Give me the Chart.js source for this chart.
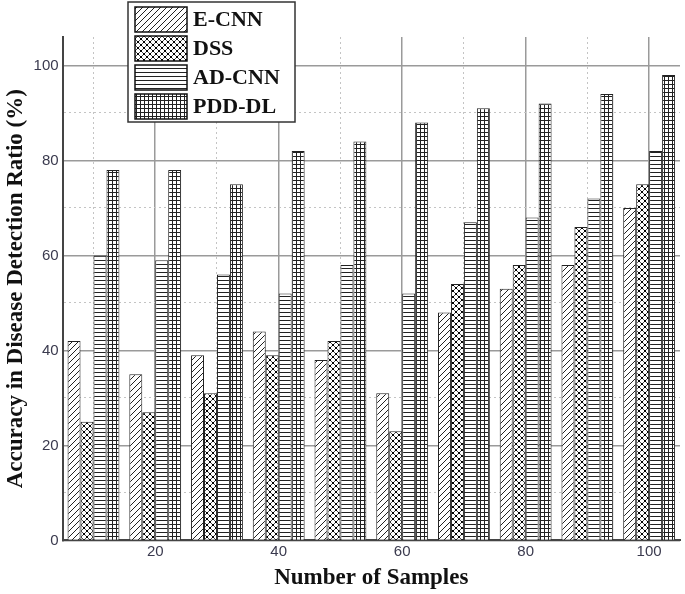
<!DOCTYPE html>
<html lang="en">
<head>
  <meta charset="UTF-8">
  <title>Accuracy in Disease Detection Ratio</title>
  <script src="https://cdn.jsdelivr.net/npm/chart.js@4"></script>
  <style>
    html, body { margin: 0; padding: 0; background: #fff; }
    #wrap { width: 685px; height: 594px; }
  </style>
</head>
<body>
  <div id="wrap"><canvas id="accChart"></canvas></div>

  <script>
    const samples = ['10', '20', '30', '40', '50', '60', '70', '80', '90', '100'];
    const eCnn  = [42, 35, 39, 44, 38, 31, 48, 53, 58, 70];
    const dss   = [25, 27, 31, 39, 42, 23, 54, 58, 66, 75];
    const adCnn = [60, 59, 56, 52, 58, 52, 67, 68, 72, 82];
    const pddDl = [78, 78, 75, 82, 84, 88, 91, 92, 94, 98];
    const seriesNames = ['E-CNN', 'DSS', 'AD-CNN', 'PDD-DL'];

    // black & white hatch fills like the printed figure
    function makePattern(kind) {
      const s = kind === 'diag' || kind === 'dots' ? 6 : 4;
      const c = document.createElement('canvas');
      c.width = s; c.height = s;
      const g = c.getContext('2d');
      g.fillStyle = '#fff';
      g.fillRect(0, 0, s, s);
      g.strokeStyle = '#222';
      g.lineWidth = 1;
      g.beginPath();
      if (kind === 'diag') {
        g.moveTo(0, s); g.lineTo(s, 0);
        g.moveTo(-1, 1); g.lineTo(1, -1);
        g.moveTo(s - 1, s + 1); g.lineTo(s + 1, s - 1);
      } else if (kind === 'dots') {
        g.strokeStyle = '#555';
        g.moveTo(0, 0); g.lineTo(s, s);
        g.moveTo(0, s); g.lineTo(s, 0);
      } else if (kind === 'hlines') {
        g.moveTo(0, 0.5); g.lineTo(s, 0.5);
      } else {
        g.moveTo(0, 0.5); g.lineTo(s, 0.5);
        g.moveTo(0.5, 0); g.lineTo(0.5, s);
      }
      g.stroke();
      if (kind === 'dots') {
        g.fillStyle = '#000';
        g.fillRect(2, 2, 2, 2);
        g.fillRect(0, 0, 1, 1); g.fillRect(s - 1, 0, 1, 1);
        g.fillRect(0, s - 1, 1, 1); g.fillRect(s - 1, s - 1, 1, 1);
      }
      return g.createPattern(c, 'repeat');
    }

    const fills = [makePattern('diag'), makePattern('dots'), makePattern('hlines'), makePattern('grid')];
    const values = [eCnn, dss, adCnn, pddDl];

    // boxed legend drawn on top of the plot, like the original
    const boxLegend = {
      id: 'boxLegend',
      afterDraw(chart) {
        const ctx = chart.ctx;
        const x0 = 128, y0 = 2, w = 167, h = 120;
        ctx.save();
        ctx.fillStyle = '#fff';
        ctx.fillRect(x0, y0, w, h);
        ctx.strokeStyle = '#333';
        ctx.lineWidth = 1.5;
        ctx.strokeRect(x0, y0, w, h);
        chart.data.datasets.forEach((ds, i) => {
          const sy = y0 + 5 + i * 29;
          ctx.fillStyle = ds.backgroundColor;
          ctx.fillRect(x0 + 7, sy, 52, 25);
          ctx.strokeStyle = '#111';
          ctx.lineWidth = 1.5;
          ctx.strokeRect(x0 + 7, sy, 52, 25);
          ctx.fillStyle = '#111';
          ctx.font = 'bold 22px "Liberation Serif"';
          ctx.textBaseline = 'middle';
          ctx.fillText(ds.label, x0 + 65, sy + 13);
        });
        ctx.restore();
      }
    };

    const isMajor = v => v % 20 === 0;

    new Chart(document.getElementById('accChart'), {
      type: 'bar',
      data: {
        labels: samples,
        datasets: seriesNames.map((name, i) => ({
          label: name,
          data: values[i],
          backgroundColor: fills[i],
          borderColor: '#222',
          borderWidth: 1,
          categoryPercentage: 0.84,
          barPercentage: 1.0
        }))
      },
      options: {
        responsive: true,
        maintainAspectRatio: false,
        animation: false,
        layout: { padding: { top: 37, right: 5, left: 2, bottom: 2 } },
        plugins: {
          legend: { display: false },
          tooltip: { enabled: false }
        },
        scales: {
          x: {
            offset: true,
            grid: {
              offset: false,
              drawTicks: false,
              color: ctx => ctx.index % 2 ? '#9a9a9a' : '#c4c4c4',
              lineWidth: ctx => ctx.index % 2 ? 1.5 : 1
            },
            border: {
              color: '#444',
              width: 2,
              dash: ctx => (ctx.index !== undefined && ctx.index % 2 === 0) ? [2, 3] : []
            },
            ticks: {
              autoSkip: false,
              maxRotation: 0,
              padding: 2,
              color: '#3a3a4e',
              font: { family: 'Liberation Sans', size: 15 },
              callback: (v, i) => i % 2 ? samples[i] : ''
            },
            title: {
              display: true,
              text: 'Number of Samples',
              color: '#111',
              font: { family: 'Liberation Serif', size: 23, weight: 'bold' },
              padding: { top: 2, bottom: 0 }
            }
          },
          y: {
            min: 0,
            max: 106,
            grid: {
              drawTicks: false,
              color: ctx => {
                const v = ctx.tick ? ctx.tick.value : 0;
                if (isMajor(v)) return '#9a9a9a';
                return v % 10 === 0 ? '#c4c4c4' : 'rgba(0,0,0,0)';
              },
              lineWidth: ctx => (ctx.tick && isMajor(ctx.tick.value)) ? 1.5 : 1
            },
            border: {
              color: '#444',
              width: 2,
              dash: ctx => (ctx.tick && !isMajor(ctx.tick.value)) ? [2, 3] : []
            },
            ticks: {
              stepSize: 10,
              padding: 4,
              color: '#3a3a4e',
              font: { family: 'Liberation Sans', size: 15 },
              callback: v => isMajor(v) ? v : ''
            },
            title: {
              display: true,
              text: 'Accuracy in Disease Detection Ratio (%)',
              color: '#111',
              font: { family: 'Liberation Serif', size: 23, weight: 'bold' },
              padding: { top: 0, bottom: 0 }
            }
          }
        }
      },
      plugins: [boxLegend]
    });
  </script>
</body>
</html>
